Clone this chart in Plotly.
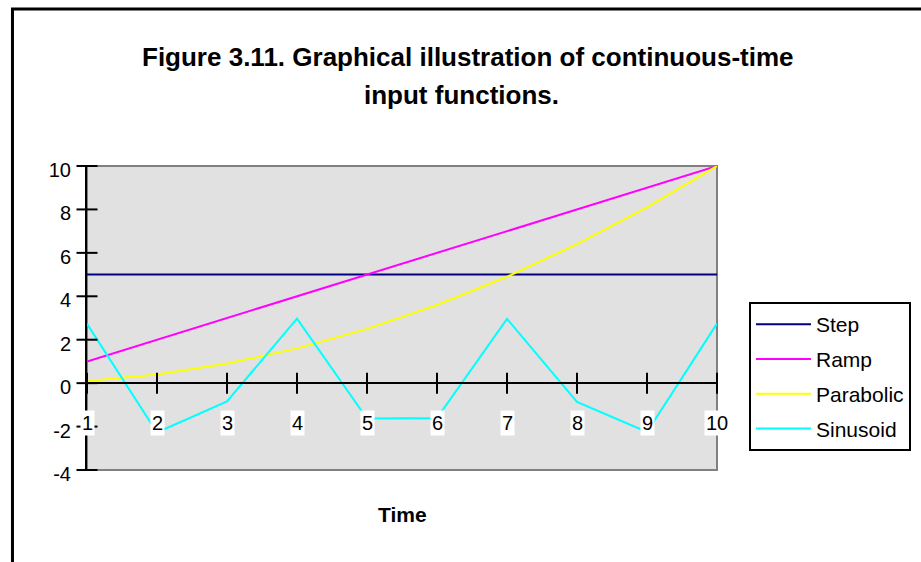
import plotly.graph_objects as go

# Sample times and the four input functions evaluated at them
time = [1, 2, 3, 4, 5, 6, 7, 8, 9, 10]
step = [5, 5, 5, 5, 5, 5, 5, 5, 5, 5]
ramp = [1, 2, 3, 4, 5, 6, 7, 8, 9, 10]
parabolic = [0.1, 0.4, 0.9, 1.6, 2.5, 3.6, 4.9, 6.4, 8.1, 10.0]
sinusoid = [2.73, -2.27, -0.84, 2.97, -1.63, -1.61, 2.96, -0.86, -2.25, 2.74]

x_tick_labels = ["1", "2", "3", "4", "5", "6", "7", "8", "9", "10"]
y_ticks = [-4, -2, 0, 2, 4, 6, 8, 10]
y_tick_labels = ["-4", "-2", "0", "2", "4", "6", "8", "10"]

Y_MIN, Y_MAX = -4, 10
FONT = "Liberation Sans, Arial, sans-serif"

fig = go.Figure()

series = [
    ("Step", step, "#000080"),
    ("Ramp", ramp, "#FF00FF"),
    ("Parabolic", parabolic, "#FFFF00"),
    ("Sinusoid", sinusoid, "#00FFFF"),
]
for name, values, color in series:
    fig.add_trace(go.Scatter(
        x=time, y=values, name=name, mode="lines", legendgroup=name,
        line=dict(color=color, width=2),
    ))

# Cross-shaped tick marks on the zero line (x axis) and on the value axis
fig.add_trace(go.Scatter(
    x=time, y=[0] * len(time), mode="markers", showlegend=False,
    hoverinfo="skip", cliponaxis=False,
    marker=dict(symbol="line-ns", size=15, color="black",
                line=dict(color="black", width=2)),
))
fig.add_trace(go.Scatter(
    x=[time[0]] * len(y_ticks), y=y_ticks, mode="markers", showlegend=False,
    hoverinfo="skip", cliponaxis=False,
    marker=dict(symbol="line-ew", size=15, color="black",
                line=dict(color="black", width=2)),
))

# Category labels sit below the zero line on small white boxes
annotations = []
for t, lab in zip(time, x_tick_labels):
    annotations.append(dict(
        x=t, y=0, xref="x", yref="y", text=lab, showarrow=False,
        yshift=-40, bgcolor="white", borderpad=1,
        font=dict(family=FONT, size=20, color="black"),
    ))

# Two-line bold heading
annotations.append(dict(
    x=0.605, y=1.358, xref="paper", yref="paper", showarrow=False,
    text="<b>Figure 3.11. Graphical illustration of continuous-time</b>",
    font=dict(family=FONT, size=26, color="black"),
    xanchor="center", yanchor="middle",
))
annotations.append(dict(
    x=0.594, y=1.233, xref="paper", yref="paper", showarrow=False,
    text="<b>input functions.</b>",
    font=dict(family=FONT, size=26, color="black"),
    xanchor="center", yanchor="middle",
))
annotations.append(dict(
    x=0.5, y=-0.148, xref="paper", yref="paper", showarrow=False,
    text="<b>Time</b>", font=dict(family=FONT, size=21, color="black"),
    xanchor="center", yanchor="middle",
))

shapes = [
    # plot-area frame
    dict(type="rect", xref="paper", yref="paper", x0=0, y0=0, x1=1, y1=1,
         line=dict(color="#808080", width=2), layer="below"),
    # outer chart border
    dict(type="rect", xref="paper", yref="paper",
         x0=-0.1183, y0=-0.33, x1=1.35, y1=1.5164,
         line=dict(color="black", width=3), layer="above"),
]

zero_pos = (0 - Y_MIN) / (Y_MAX - Y_MIN)

fig.update_layout(
    width=921, height=562, autosize=False,
    margin=dict(l=87, r=204, t=166, b=92, autoexpand=False),
    paper_bgcolor="white", plot_bgcolor="#e1e1e1",
    font=dict(family=FONT, size=20, color="black"),
    showlegend=True,
    legend=dict(
        x=1.0508, y=0.5526, xanchor="left", yanchor="top",
        bordercolor="black", borderwidth=2, bgcolor="white",
        font=dict(family=FONT, size=21, color="black"),
        tracegroupgap=4.5, itemwidth=55,
    ),
    xaxis=dict(
        range=[1, 10], anchor="free", position=zero_pos,
        showline=True, linecolor="black", linewidth=2,
        showgrid=False, zeroline=False, ticks="", showticklabels=False,
        fixedrange=True,
    ),
    yaxis=dict(
        range=[Y_MIN, Y_MAX], tickvals=y_ticks, ticktext=y_tick_labels,
        showline=True, linecolor="black", linewidth=2,
        showgrid=False, zeroline=False, ticks="",
        ticklabelstandoff=10, ticklabelshift=4,
        tickfont=dict(family=FONT, size=20, color="black"),
        fixedrange=True,
    ),
    annotations=annotations,
    shapes=shapes,
)

fig.write_html("out.html")
